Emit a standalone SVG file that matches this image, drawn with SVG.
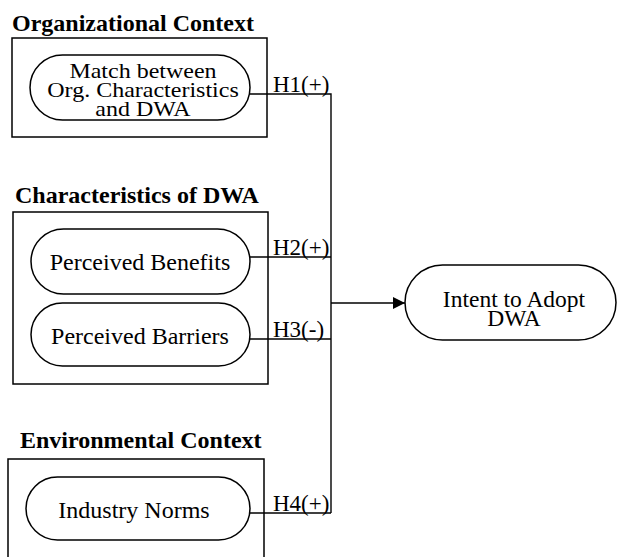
<svg xmlns="http://www.w3.org/2000/svg" width="617" height="557" viewBox="0 0 617 557">
<style>
text{font-family:"Liberation Serif","Times New Roman",serif;fill:#000}
.title{font-size:24px;font-weight:bold}
.lbl{font-size:24px}
.mid{text-anchor:middle}
.hyp{font-size:23px}
.box{fill:none;stroke:#000;stroke-width:1.5}
.pill{fill:#fff;stroke:#000;stroke-width:1.5}
.conn{fill:none;stroke:#000;stroke-width:1.4}
</style>
<defs>
<marker id="arr" markerWidth="12" markerHeight="12" refX="12" refY="6" orient="auto" markerUnits="userSpaceOnUse">
<path d="M0,0 L12,6 L0,12 Z" fill="#000"/>
</marker>
</defs>
<g id="org-context">
<text class="title" x="12" y="31">Organizational Context</text>
<rect class="box" x="12" y="38" width="255" height="99"/>
</g>
<g id="match">
<rect class="pill" x="30" y="55" width="220" height="65" rx="32.5"/>
<g transform="translate(143,78) scale(1,0.84)">
<text class="lbl mid" x="0" y="0">Match between</text>
<text class="lbl mid" x="0" y="23.2">Org. Characteristics</text>
<text class="lbl mid" x="0" y="45.8">and DWA</text>
</g>
</g>
<g id="char-dwa">
<text class="title" x="15" y="203">Characteristics of DWA</text>
<rect class="box" x="13" y="212" width="255" height="172"/>
</g>
<g id="benefits">
<rect class="pill" x="31" y="229" width="219" height="65" rx="32.5"/>
<text class="lbl mid" x="140" y="270">Perceived Benefits</text>
</g>
<g id="barriers">
<rect class="pill" x="31" y="303" width="219" height="63" rx="31.5"/>
<text class="lbl mid" x="140" y="344">Perceived Barriers</text>
</g>
<g id="env-context">
<text class="title" x="20" y="448">Environmental Context</text>
<path class="box" d="M8,560 V459 H264 V560"/>
</g>
<g id="norms">
<rect class="pill" x="26" y="477" width="224" height="63" rx="31.5"/>
<text class="lbl mid" x="134" y="518">Industry Norms</text>
</g>
<g id="intent">
<rect class="pill" x="405" y="265" width="211" height="75" rx="37.5"/>
<text class="lbl mid" x="514" y="307" style="font-size:23.5px">Intent to Adopt</text>
<text class="lbl mid" x="514" y="326" style="font-size:23.5px">DWA</text>
</g>
<g id="connectors">
<path class="conn" d="M250,94 H331 V513"/>
<path class="conn" d="M250,257 H331"/>
<path class="conn" d="M250,339 H331"/>
<path class="conn" d="M250,513 H331"/>
<path class="conn" d="M331,303 H405" marker-end="url(#arr)"/>
<text class="hyp" x="273" y="92">H1(+)</text>
<text class="hyp" x="273" y="255">H2(+)</text>
<text class="hyp" x="273" y="337">H3(-)</text>
<text class="hyp" x="273" y="511">H4(+)</text>
</g>
</svg>
